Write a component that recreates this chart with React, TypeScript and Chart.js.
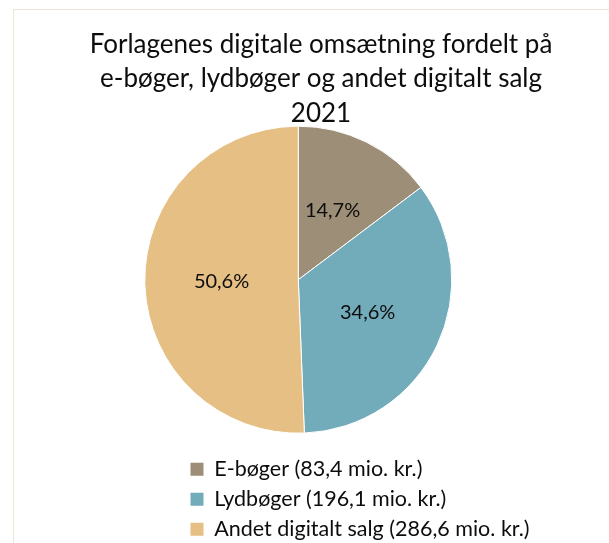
import React, { useEffect, useRef } from "react";
import { Chart, registerables } from "chart.js";

Chart.register(...registerables);

const TITLE_LINES = [
  "Forlagenes digitale omsætning fordelt på",
  "e-bøger, lydbøger og andet digitalt salg",
  "2021",
];
const CATEGORIES = ["E-bøger", "Lydbøger", "Andet digitalt salg"];
const VALUES = [83.4, 196.1, 286.6];
const UNIT = "mio. kr.";
const COLORS = ["#9d8e77", "#72abba", "#e5bf84"];

const fmt = (n: number, d: number) => n.toFixed(d).replace(".", ",");

export default function App() {
  const ref = useRef<HTMLCanvasElement>(null);

  useEffect(() => {
    if (!ref.current) return;
    const total = VALUES.reduce((a, b) => a + b, 0);

    const placement = {
      id: "placement",
      afterLayout(chart: any) {
        const ca = chart.chartArea;
        const cx = 298.3;
        const cy = 279.7;
        const half = 154;
        ca.left = cx - half;
        ca.right = cx + half;
        ca.top = cy - half;
        ca.bottom = cy + half;
        ca.width = 2 * half;
        ca.height = 2 * half;
        const t = chart.titleBlock;
        if (t) {
          t.left = 321 - 300;
          t.right = 321 + 300;
          t.width = 600;
        }
        const l = chart.legend;
        if (l) {
          l.left = 182;
          l.right = 582;
          l.width = 400;
          l.top = 450;
          l.bottom = 550;
          l.height = 100;
        }
      },
    };

    const sliceLabels = {
      id: "sliceLabels",
      afterDatasetsDraw(chart: any) {
        const ctx = chart.ctx;
        const meta = chart.getDatasetMeta(0);
        ctx.save();
        ctx.font = "20px Lato";
        ctx.fillStyle = "#0d0d0d";
        ctx.textAlign = "center";
        ctx.textBaseline = "middle";
        meta.data.forEach((arc: any, i: number) => {
          const p = arc.tooltipPosition();
          ctx.fillText(fmt((VALUES[i] / total) * 100, 1) + "%", p.x, p.y);
        });
        ctx.restore();
      },
    };

    const baseGen = (Chart as any).overrides.pie.plugins.legend.labels.generateLabels;

    const chart = new Chart(ref.current, {
      type: "pie",
      data: {
        labels: CATEGORIES.map((c, i) => `${c} (${fmt(VALUES[i], 1)} ${UNIT})`),
        datasets: [
          {
            data: VALUES,
            backgroundColor: COLORS,
            borderColor: "#ffffff",
            borderWidth: 1,
          },
        ],
      },
      options: {
        responsive: false,
        animation: false,
        layout: { padding: 0 },
        plugins: {
          title: {
            display: true,
            text: TITLE_LINES,
            color: "#0d0d0d",
            font: { family: "Lato", size: 26, weight: "normal", lineHeight: "34.6px" },
            padding: { top: 27, bottom: 0 },
          },
          legend: {
            display: true,
            position: "bottom",
            align: "start",
            labels: {
              color: "#0d0d0d",
              font: { family: "Lato", size: 21.5 },
              boxWidth: 13,
              boxHeight: 13,
              padding: 8.5,
              generateLabels: (c: any) =>
                baseGen(c).map((it: any) => ({ ...it, lineWidth: 0 })),
            },
          },
          tooltip: { enabled: false },
        },
      },
      plugins: [placement, sliceLabels],
    } as any);

    return () => chart.destroy();
  }, []);

  return (
    <div style={{ position: "fixed", left: 0, top: 0, width: 609, height: 543, background: "#ffffff" }}>
      <div
        style={{
          position: "absolute",
          left: 13,
          top: 9,
          right: 0,
          bottom: 0,
          borderLeft: "1px solid #ece6d9",
          borderTop: "1px solid #ece6d9",
          pointerEvents: "none",
        }}
      />
      <canvas ref={ref} width={609} height={543} style={{ position: "absolute", left: 0, top: 0, width: 609, height: 543 }} />
    </div>
  );
}
